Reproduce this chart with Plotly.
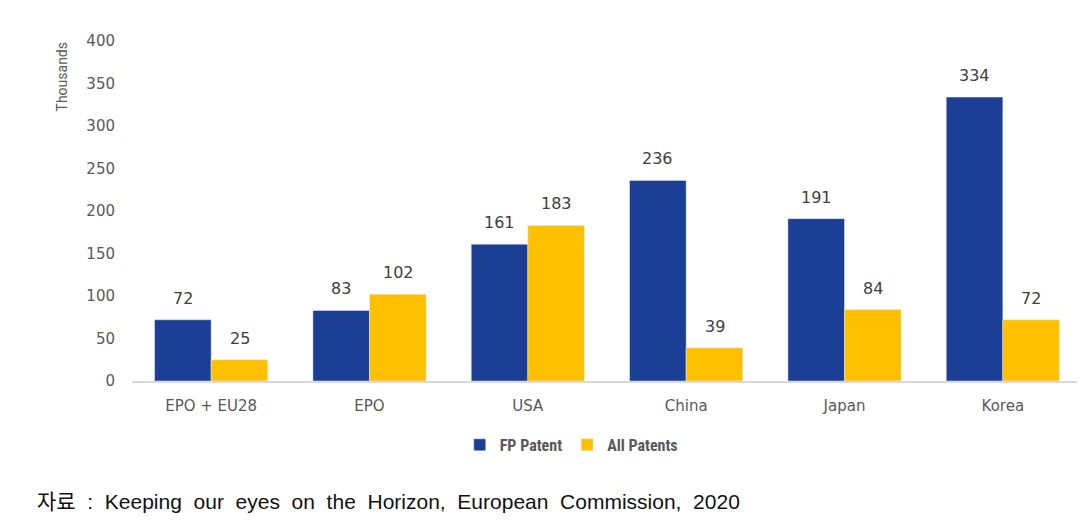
import plotly.graph_objects as go

categories = ["EPO + EU28", "EPO", "USA", "China", "Japan", "Korea"]
fp_patent = [72, 83, 161, 236, 191, 334]
all_patents = [25, 102, 183, 39, 84, 72]
y_ticks = [0, 50, 100, 150, 200, 250, 300, 350, 400]

BLUE = "#1B3F94"
YELLOW = "#FFC000"
GRAY = "#595959"
TICKFONT = "DejaVu Sans"

fig = go.Figure()
fig.add_trace(go.Bar(x=categories, y=fp_patent, name="FP Patent", marker_color=BLUE))
fig.add_trace(go.Bar(x=categories, y=all_patents, name="All Patents", marker_color=YELLOW))

annotations = []
for series, shift in ((fp_patent, -28.5), (all_patents, 28.5)):
    for cat, val in zip(categories, series):
        annotations.append(dict(
            x=cat, y=val, xref="x", yref="y", text=str(val), showarrow=False,
            xshift=shift, yshift=10, yanchor="bottom",
            font=dict(size=16, color="#404040", family=TICKFONT)))

annotations += [
    dict(text="Thousands", xref="paper", yref="paper", x=-0.0737, y=1.003,
         xanchor="center", yanchor="top", textangle=-90, showarrow=False,
         font=dict(size=14, color=GRAY, family="Liberation Sans Narrow, Roboto")),
    dict(text="자료  :  Keeping  our  eyes  on  the  Horizon,  European  Commission,  2020",
         xref="paper", yref="paper", x=-0.1021, y=-0.353, xanchor="left", yanchor="middle",
         showarrow=False, font=dict(size=21, color="#111111", family="Liberation Sans, Noto Sans CJK KR")),
]

fig.update_layout(
    width=1077, height=512,
    barmode="group", bargap=0.285, bargroupgap=0,
    plot_bgcolor="white", paper_bgcolor="white",
    margin=dict(l=124, r=3, t=33, b=139),
    font=dict(family=TICKFONT, color=GRAY),
    showlegend=True,
    legend=dict(orientation="h", x=0.345, xanchor="left", y=-0.188, yanchor="middle",
                font=dict(size=16, color=GRAY, family="Liberation Sans Narrow, Roboto Condensed, Roboto",
                          weight="bold"),
                itemwidth=30, traceorder="normal"),
    xaxis=dict(showline=True, linecolor="#D9D9D9", linewidth=1.5, ticks="",
               ticklabelstandoff=10,
               tickfont=dict(size=15, color=GRAY, family=TICKFONT)),
    yaxis=dict(range=[0, 400], tickvals=y_ticks, showgrid=False, zeroline=False,
               tickfont=dict(size=15, color=GRAY, family=TICKFONT), ticklabelstandoff=16),
    annotations=annotations,
)

fig.write_html("out.html")
